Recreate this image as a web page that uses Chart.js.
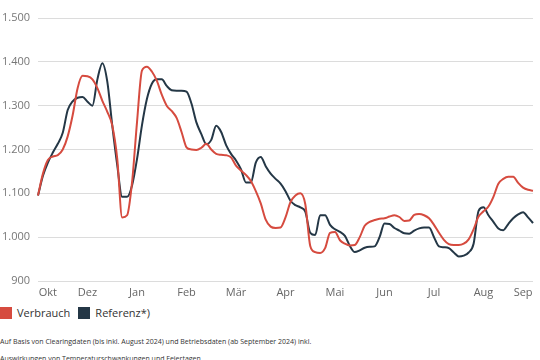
<!DOCTYPE html>
<html>
<head>
<meta charset="utf-8">
<script src="https://cdn.jsdelivr.net/npm/chart.js@4"></script>
<style>
  html, body { margin: 0; padding: 0; background: #fff; }
  body { width: 540px; height: 360px; overflow: hidden; position: relative; font-family: "Open Sans", sans-serif; }
  #wrap { position: absolute; left: 0; top: 0; width: 540px; height: 302px; }
  #legend { position: absolute; left: 0; top: 305px; display: flex; align-items: center; font-size: 11px; color: #333; }
  #legend span.box { display: inline-block; width: 12px; height: 12px; margin-right: 5px; }
  #legend span.item { display: flex; align-items: center; margin-right: 8px; }
  .note { position: absolute; left: 0; font-size: 7px; color: #333; white-space: nowrap; }
</style>
</head>
<body>
<div id="wrap"><canvas id="myChart"></canvas></div>
<div id="legend"></div>
<div class="note" style="top:337px">Auf Basis von Clearingdaten (bis inkl. August 2024) und Betriebsdaten (ab September 2024) inkl.</div>
<div class="note" style="top:354px">Auswirkungen von Temperaturschwankungen und Feiertagen</div>
<script>
// Beschriftung der x-Achse (halbwöchentliche Raster, leer = kein Label)
const monthLabels = ['', '', 'Okt', '', '', '', '', '', '', '', 'Dez', '', '', '', '', '', '', '', '', '',
    'Jan', '', '', '', '', '', '', '', '', '', 'Feb', '', '', '', '', '', '', '', '', '',
    'Mär', '', '', '', '', '', '', '', '', '', 'Apr', '', '', '', '', '', '', '', '', '',
    'Mai', '', '', '', '', '', '', '', '', '', 'Jun', '', '', '', '', '', '', '', '', '',
    'Jul', '', '', '', '', '', '', '', '', '', 'Aug', '', '', '', '', '', '', '', 'Sep', '', ''];

const verbrauch = [1095, 1145, 1176, 1184, 1187, 1200, 1230, 1278, 1340, 1368,
    1367, 1360, 1340, 1311, 1286, 1255, 1180, 1045, 1050, 1125,
    1262, 1380, 1389, 1378, 1357, 1325, 1300, 1288, 1272, 1240,
    1205, 1200, 1199, 1204, 1213, 1200, 1190, 1188, 1187, 1182,
    1163, 1152, 1142, 1128, 1105, 1077, 1040, 1024, 1021, 1022,
    1045, 1080, 1095, 1100, 1075, 980, 966, 964, 975, 1010,
    1012, 993, 985, 981, 982, 1000, 1026, 1035, 1039, 1042,
    1043, 1047, 1050, 1046, 1037, 1038, 1051, 1053, 1050, 1043,
    1028, 1010, 994, 984, 982, 982, 985, 995, 1018, 1047,
    1059, 1070, 1092, 1122, 1133, 1138, 1138, 1124, 1113, 1108, 1106];

const referenz = [1095, 1140, 1170, 1193, 1213, 1238, 1290, 1310, 1318, 1320,
    1309, 1300, 1360, 1397, 1355, 1255, 1165, 1092, 1092, 1118,
    1178, 1255, 1315, 1350, 1360, 1360, 1345, 1335, 1334, 1334,
    1332, 1305, 1262, 1235, 1212, 1222, 1254, 1240, 1210, 1190,
    1175, 1155, 1125, 1125, 1170, 1183, 1162, 1145, 1133, 1122,
    1105, 1083, 1073, 1068, 1058, 1010, 1005, 1050, 1050, 1028,
    1018, 1012, 1003, 980, 966, 970, 976, 978, 979, 1000,
    1031, 1030, 1021, 1015, 1009, 1008, 1015, 1020, 1022, 1022,
    1000, 979, 977, 975, 965, 956, 958, 965, 985, 1060,
    1068, 1050, 1035, 1020, 1016, 1030, 1043, 1052, 1057, 1045, 1032];

const seriesNames = ['Verbrauch', 'Referenz*)'];
const seriesColors = ['#d64b3f', '#243746'];

const ctx = document.getElementById('myChart');
new Chart(ctx, {
    type: 'line',
    data: {
        labels: monthLabels,
        datasets: [{
            label: seriesNames[0],
            data: verbrauch,
            borderColor: seriesColors[0],
            backgroundColor: seriesColors[0],
            borderWidth: 2,
            pointRadius: 0,
            cubicInterpolationMode: 'monotone'
        }, {
            label: seriesNames[1],
            data: referenz,
            borderColor: seriesColors[1],
            backgroundColor: seriesColors[1],
            borderWidth: 2,
            pointRadius: 0,
            cubicInterpolationMode: 'monotone'
        }]
    },
    options: {
        responsive: true,
        maintainAspectRatio: false,
        animation: false,
        layout: { padding: { top: 18, right: 7, left: 0, bottom: 0 } },
        plugins: {
            legend: { display: false },
            tooltip: { enabled: false }
        },
        scales: {
            x: {
                afterFit: function (scale) { scale.height = 21; },
                grid: { display: false },
                border: { display: false },
                ticks: {
                    autoSkip: false,
                    maxRotation: 0,
                    padding: -3,
                    color: '#666',
                    font: { family: 'Open Sans', size: 11 }
                }
            },
            y: {
                min: 900,
                max: 1500,
                afterFit: function (scale) { scale.width = 38; },
                grid: { color: '#dcdcdc', drawTicks: false },
                border: { display: false },
                ticks: {
                    stepSize: 100,
                    padding: 8,
                    color: '#777',
                    font: { family: 'Open Sans', size: 11 },
                    callback: v => v.toLocaleString('de-DE')
                }
            }
        }
    }
});

// Legende
const legend = document.getElementById('legend');
seriesNames.forEach((name, i) => {
    const item = document.createElement('span');
    item.className = 'item';
    item.innerHTML = '<span class="box" style="background:' + seriesColors[i] + '"></span>' + name;
    legend.appendChild(item);
});
</script>
</body>
</html>
